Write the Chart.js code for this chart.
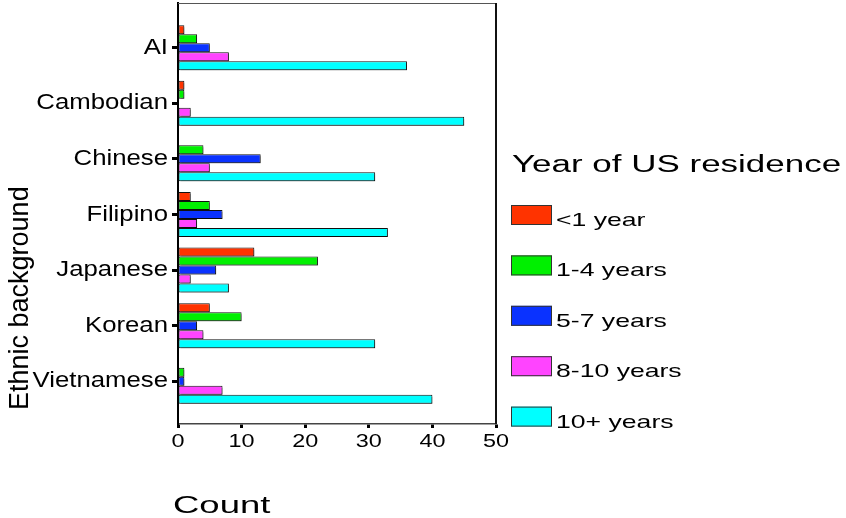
<!DOCTYPE html>
<html><head><meta charset="utf-8">
<script src="https://cdn.jsdelivr.net/npm/chart.js@4/dist/chart.umd.min.js"></script>
<style>html,body{margin:0;padding:0;background:#fff}#wrap{width:846px;height:518px}</style>
</head><body><div id="wrap"><canvas id="c" width="846" height="518"></canvas></div>
<script>
// ---- data ----
const categories = ['AI', 'Cambodian', 'Chinese', 'Filipino', 'Japanese', 'Korean', 'Vietnamese'];
const seriesLabels = ['<1 year', '1-4 years', '5-7 years', '8-10 years', '10+ years'];
const lessThan1Year = [1, 1, 0, 2, 12, 5, 0];
const years1to4 = [3, 1, 4, 5, 22, 10, 1];
const years5to7 = [5, 0, 13, 7, 6, 3, 1];
const years8to10 = [8, 2, 5, 3, 2, 4, 7];
const years10plus = [36, 45, 31, 33, 8, 31, 40];
const xTickValues = [0, 10, 20, 30, 40, 50];
const axisTitleX = 'Count';
const axisTitleY = 'Ethnic background';
const legendTitle = 'Year of US residence';

// ---- styles ----
const seriesColors = ['#ff3300', '#00f000', '#0a32ff', '#ff44ff', '#00ffff'];
const FONT = '"Liberation Sans", Arial, sans-serif';

// per-text horizontal stretch / offset (the reference text is horizontally widened)
const TEXT_FX = {};
categories.forEach(c => TEXT_FX[c] = {sx: 1.17, dx: 0});
xTickValues.forEach(v => TEXT_FX[String(v)] = {sx: 1.3, dx: 0});
TEXT_FX[axisTitleX] = {sx: 1.52, dx: -5};
TEXT_FX[axisTitleY] = {sx: 1, dx: 14};
TEXT_FX[legendTitle] = {sx: 1.52, dx: 0};
seriesLabels.forEach(s => TEXT_FX[s] = {sx: 1.4, dx: 0});

function patchCtx(ctx) {
  if (ctx.__patched) return;
  const orig = ctx.fillText;
  ctx.fillText = function (text, x, y, maxWidth) {
    const fx = TEXT_FX[String(text)];
    if (!fx) {
      return arguments.length > 3 && maxWidth !== undefined ? orig.call(this, text, x, y, maxWidth) : orig.call(this, text, x, y);
    }
    this.save();
    this.translate(x + (fx.dx || 0), y + (fx.dy || 0));
    this.scale(fx.sx || 1, 1);
    orig.call(this, text, 0, 0);
    this.restore();
  };
  ctx.__patched = true;
}

const textPlugin = { id: 'textfx', beforeInit(chart) { patchCtx(chart.ctx); } };

const shadowPlugin = {
  id: 'barshadow',
  beforeDatasetsDraw(chart) {
    const c = chart.ctx; c.save();
    c.shadowColor = 'rgba(0,0,0,0.32)'; c.shadowOffsetX = 2; c.shadowOffsetY = 2; c.shadowBlur = 0;
  },
  afterDatasetsDraw(chart) { chart.ctx.restore(); }
};

const framePlugin = {
  id: 'frame',
  afterDraw(chart) {
    const c = chart.ctx, a = chart.chartArea;
    c.save();
    c.strokeStyle = '#555'; c.lineWidth = 1;
    c.beginPath(); c.moveTo(a.left, a.top + 0.5); c.lineTo(a.right, a.top + 0.5); c.stroke();
    c.strokeStyle = '#111'; c.lineWidth = 2;
    c.beginPath(); c.moveTo(a.right, a.top); c.lineTo(a.right, a.bottom); c.stroke();
    c.restore();
  }
};

const legendPlugin = {
  id: 'customLegend',
  afterDraw(chart) {
    const c = chart.ctx;
    c.save();
    c.fillStyle = '#000';
    c.textAlign = 'left';
    c.textBaseline = 'alphabetic';
    c.font = '23px ' + FONT;
    c.fillText(legendTitle, 512, 171.5);
    c.font = '19px ' + FONT;
    chart.data.datasets.forEach((ds, i) => {
      const top = 205 + i * 50.4;
      c.fillStyle = ds.backgroundColor;
      c.fillRect(511, top, 41, 20);
      c.strokeStyle = '#333'; c.lineWidth = 1;
      c.strokeRect(511.5, top + 0.5, 40, 19);
      c.fillStyle = '#000';
      c.fillText(ds.label, 556, top + 21);
    });
    c.restore();
  }
};

const seriesValues = [lessThan1Year, years1to4, years5to7, years8to10, years10plus];

new Chart(document.getElementById('c').getContext('2d'), {
  type: 'bar',
  data: {
    labels: categories,
    datasets: seriesValues.map((vals, i) => ({
      label: seriesLabels[i],
      data: vals,
      backgroundColor: seriesColors[i],
      borderColor: '#111',
      borderWidth: 1,
      borderSkipped: false,
      categoryPercentage: 0.81,
      barPercentage: 1
    }))
  },
  options: {
    indexAxis: 'y',
    responsive: false,
    animation: false,
    devicePixelRatio: 1,
    layout: { padding: { left: 0, top: 3, right: 350, bottom: 0 } },
    plugins: { legend: { display: false }, tooltip: { enabled: false } },
    scales: {
      x: {
        type: 'linear', min: 0, max: 50,
        afterBuildTicks(s) { s.ticks = xTickValues.map(v => ({ value: v })); },
        ticks: { color: '#000', font: { family: FONT, size: 18 }, padding: 3, maxRotation: 0, autoSkip: false },
        grid: { drawOnChartArea: false, drawTicks: true, tickLength: 4, tickWidth: 3, tickColor: '#000' },
        border: { display: true, color: '#444', width: 1.5 },
        title: { display: true, text: axisTitleX, align: 'start', color: '#000', font: { family: FONT, size: 24, lineHeight: 1 }, padding: { top: 0, bottom: 0 } },
        afterFit(s) { s.height = 94; s.paddingLeft = 0; s.paddingRight = 0; }
      },
      y: {
        type: 'category',
        offset: true,
        afterBuildTicks(s) { s._startValue -= 0.303; s._valueRange += 0.572; },
        ticks: { color: '#000', font: { family: FONT, size: 22 }, padding: 4, autoSkip: false },
        grid: { offset: false, drawOnChartArea: false, drawTicks: true, tickLength: 6, tickWidth: 3, tickColor: '#000' },
        border: { display: true, color: '#000', width: 2 },
        title: { display: true, text: axisTitleY, align: 'start', color: '#000', font: { family: FONT, size: 27, lineHeight: 1 }, padding: { top: 7, bottom: 0 } },
        afterFit(s) { s.width = 178; s.paddingTop = 0; s.paddingBottom = 0; }
      }
    }
  },
  plugins: [textPlugin, shadowPlugin, framePlugin, legendPlugin]
});
</script>
</body></html>
